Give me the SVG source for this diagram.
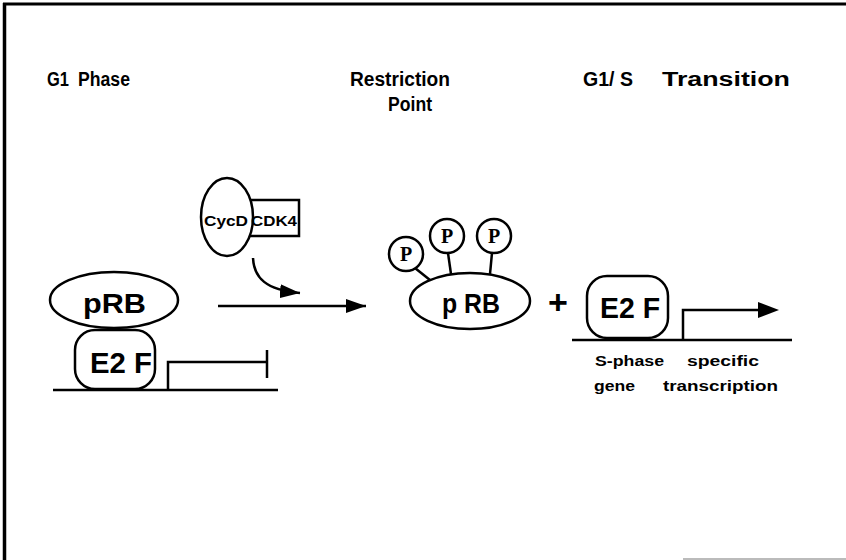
<svg xmlns="http://www.w3.org/2000/svg" width="846" height="560" viewBox="0 0 846 560">
<style>
.t{font-family:"Liberation Sans",Arial,sans-serif;font-weight:bold;fill:#000}
.s{fill:none;stroke:#000;stroke-width:2.5}
.w{fill:#fff;stroke:#000;stroke-width:2.5}
.p{font-family:"Liberation Serif","Times New Roman",serif;font-weight:bold;font-size:20px;fill:#000}
</style>
<defs>
<marker id="ah2" viewBox="0 0 20 14" refX="20" refY="7" markerWidth="20" markerHeight="14" markerUnits="userSpaceOnUse" orient="auto">
<path d="M0,0 L20,7 L0,14 z" fill="#000"/>
</marker>
</defs>
<rect width="846" height="560" fill="#fff"/>
<g id="frame">
<line x1="3" y1="4" x2="846" y2="4" stroke="#000" stroke-width="3"/>
<line x1="4.5" y1="3" x2="4.5" y2="560" stroke="#000" stroke-width="3.5"/>
<line x1="683" y1="559" x2="846" y2="559" stroke="#bbb" stroke-width="2"/>
</g>
<g id="titles" class="t" font-size="20">
<text x="47" y="86" textLength="22" lengthAdjust="spacingAndGlyphs">G1</text>
<text x="78" y="86" textLength="52" lengthAdjust="spacingAndGlyphs">Phase</text>
<text x="350" y="86" textLength="100" lengthAdjust="spacingAndGlyphs">Restriction</text>
<text x="388" y="111" textLength="44" lengthAdjust="spacingAndGlyphs">Point</text>
<text x="583" y="86" textLength="50" lengthAdjust="spacingAndGlyphs">G1/ S</text>
<text x="662" y="86" textLength="128" lengthAdjust="spacingAndGlyphs">Transition</text>
</g>
<g id="g1-complex">
<line class="s" x1="53" y1="390" x2="278" y2="390"/>
<path class="s" d="M168,390 V362 H267 M267,350 V378"/>
<rect class="w" x="75" y="330" width="80" height="59" rx="20"/>
<text class="t" x="90" y="373" font-size="30" textLength="62" lengthAdjust="spacingAndGlyphs">E2 F</text>
<ellipse class="w" cx="114" cy="300" rx="64" ry="28"/>
<text class="t" x="83" y="313" font-size="28" textLength="63" lengthAdjust="spacingAndGlyphs">pRB</text>
</g>
<g id="cycd-cdk4">
<rect class="w" x="240" y="200" width="59" height="36"/>
<ellipse class="w" cx="227" cy="217" rx="26" ry="39"/>
<text class="t" x="204" y="226" font-size="14" textLength="44" lengthAdjust="spacingAndGlyphs">CycD</text>
<text class="t" x="251" y="226" font-size="14" textLength="46" lengthAdjust="spacingAndGlyphs">CDK4</text>
</g>
<g id="connectors">
<path class="s" d="M253,258 C254,278 266,290 300,293" marker-end="url(#ah2)"/>
<line class="s" x1="218" y1="306" x2="366" y2="306" marker-end="url(#ah2)"/>
</g>
<g id="prb-p">
<line class="s" x1="415" y1="268" x2="430" y2="280"/>
<line class="s" x1="448" y1="253" x2="451" y2="274"/>
<line class="s" x1="492" y1="253" x2="490" y2="274"/>
<circle class="w" cx="406" cy="254" r="17"/>
<circle class="w" cx="447" cy="236" r="17"/>
<circle class="w" cx="494" cy="236" r="17"/>
<text class="p" x="406" y="261" text-anchor="middle">P</text>
<text class="p" x="447" y="243" text-anchor="middle">P</text>
<text class="p" x="494" y="243" text-anchor="middle">P</text>
<ellipse class="w" cx="470" cy="301" rx="60" ry="28"/>
<text class="t" x="442" y="313" font-size="28" textLength="58" lengthAdjust="spacingAndGlyphs">p RB</text>
</g>
<g id="plus">
<text class="t" x="558" y="314" font-size="34" text-anchor="middle">+</text>
</g>
<g id="e2f-free">
<line class="s" x1="572" y1="340" x2="792" y2="340"/>
<path class="s" d="M683,340 V310 H762"/>
<path d="M758,302 L779,310 L758,318 z" fill="#000"/>
<rect class="w" x="587" y="276" width="81" height="62" rx="20"/>
<text class="t" x="600" y="318" font-size="30" textLength="60" lengthAdjust="spacingAndGlyphs">E2 F</text>
<text class="t" x="595" y="366" font-size="14" textLength="69" lengthAdjust="spacingAndGlyphs">S-phase</text>
<text class="t" x="687" y="366" font-size="14" textLength="72" lengthAdjust="spacingAndGlyphs">specific</text>
<text class="t" x="594" y="391" font-size="14" textLength="41" lengthAdjust="spacingAndGlyphs">gene</text>
<text class="t" x="663" y="391" font-size="14" textLength="115" lengthAdjust="spacingAndGlyphs">transcription</text>
</g>
</svg>
